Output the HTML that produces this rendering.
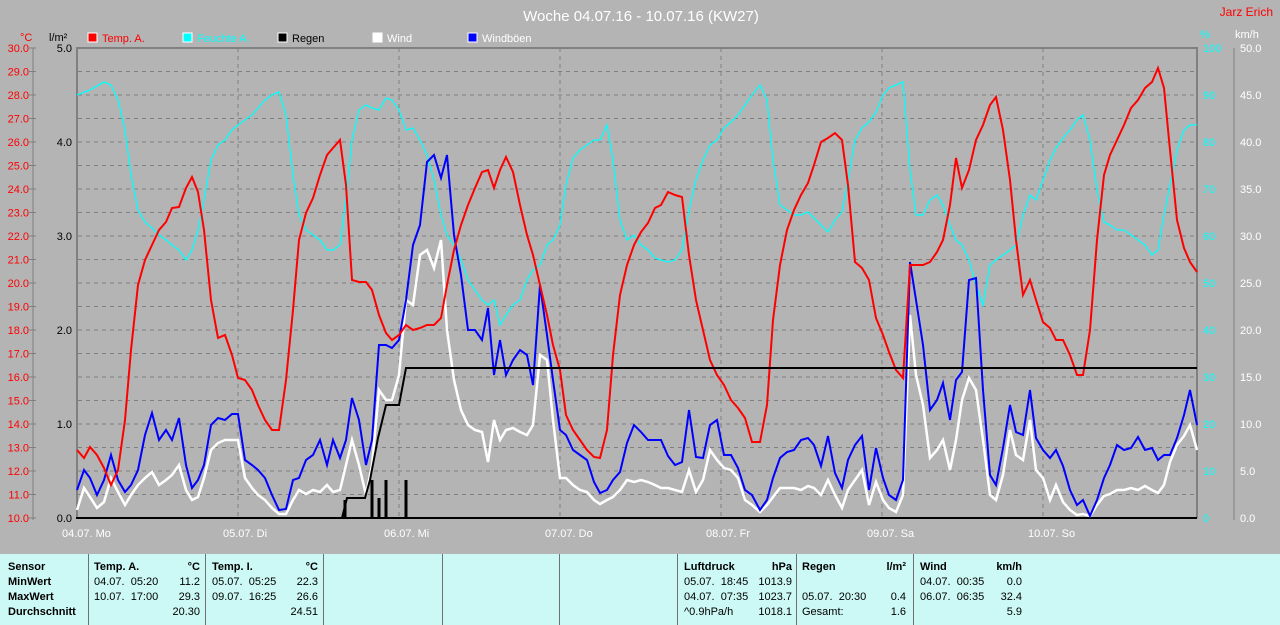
<!DOCTYPE html>
<html><head><meta charset="utf-8"><style>
body{margin:0;width:1280px;height:625px;background:#b4b4b4;overflow:hidden;font-family:"Liberation Sans",sans-serif}
svg{position:absolute;left:0;top:0}
.tbl{position:absolute;left:0;top:554px;width:1280px;height:71px;background:#ccf8f5;font-size:11px;color:#000}
.c{position:absolute;top:0;height:71px;border-left:1px solid #707070}
.t{position:absolute;white-space:pre;font-size:11px;line-height:15px}
.b{font-weight:bold}
</style></head><body>
<svg width="1280" height="625" font-family="Liberation Sans, sans-serif">
<text x="641" y="21" fill="#fff" font-size="15" text-anchor="middle">Woche 04.07.16 - 10.07.16 (KW27)</text>
<text x="1273" y="16" fill="#f00" font-size="12" text-anchor="end">Jarz Erich</text>
<text x="20" y="41" fill="#f00" font-size="11">°C</text>
<text x="49" y="41" fill="#000" font-size="11">l/m²</text>
<text x="1200" y="38" fill="#0ff" font-size="11">%</text>
<text x="1235" y="38" fill="#fff" font-size="11">km/h</text>
<g font-size="11">
<rect x="88" y="33" width="9" height="9" fill="#f00" stroke="#fff"/><text x="102" y="42" fill="#f00">Temp. A.</text>
<rect x="183" y="33" width="9" height="9" fill="#0ff" stroke="#fff"/><text x="197" y="42" fill="#0ff">Feuchte A.</text>
<rect x="278" y="33" width="9" height="9" fill="#000" stroke="#fff"/><text x="292" y="42" fill="#000">Regen</text>
<rect x="373" y="33" width="9" height="9" fill="#fff" stroke="#fff"/><text x="387" y="42" fill="#fff">Wind</text>
<rect x="468" y="33" width="9" height="9" fill="#00f" stroke="#fff"/><text x="482" y="42" fill="#fff">Windböen</text>
</g>
<g stroke="#808080" stroke-dasharray="4,4" stroke-width="1">
<line x1="78" x2="1196" y1="71.5" y2="71.5"/><line x1="78" x2="1196" y1="95" y2="95"/><line x1="78" x2="1196" y1="118.5" y2="118.5"/><line x1="78" x2="1196" y1="142" y2="142"/><line x1="78" x2="1196" y1="165.5" y2="165.5"/><line x1="78" x2="1196" y1="189" y2="189"/><line x1="78" x2="1196" y1="212.5" y2="212.5"/><line x1="78" x2="1196" y1="236" y2="236"/><line x1="78" x2="1196" y1="259.5" y2="259.5"/><line x1="78" x2="1196" y1="283" y2="283"/><line x1="78" x2="1196" y1="306.5" y2="306.5"/><line x1="78" x2="1196" y1="330" y2="330"/><line x1="78" x2="1196" y1="353.5" y2="353.5"/><line x1="78" x2="1196" y1="377" y2="377"/><line x1="78" x2="1196" y1="400.5" y2="400.5"/><line x1="78" x2="1196" y1="424" y2="424"/><line x1="78" x2="1196" y1="447.5" y2="447.5"/><line x1="78" x2="1196" y1="471" y2="471"/><line x1="78" x2="1196" y1="494.5" y2="494.5"/>
<line x1="238" x2="238" y1="48" y2="518"/><line x1="399" x2="399" y1="48" y2="518"/><line x1="560" x2="560" y1="48" y2="518"/><line x1="721" x2="721" y1="48" y2="518"/><line x1="882" x2="882" y1="48" y2="518"/><line x1="1043" x2="1043" y1="48" y2="518"/>
</g>
<path d="M77 518V48H1197V518" fill="none" stroke="#808080" stroke-width="2"/>
<line x1="76" x2="1197" y1="518" y2="518" stroke="#000" stroke-width="2"/>
<line x1="33" x2="33" y1="48" y2="520" stroke="#808080"/>
<line x1="1234" x2="1234" y1="48" y2="520" stroke="#808080"/>
<g font-size="11" fill="#f00" text-anchor="end" id="tl"></g>
<g font-size="11" fill="#000" text-anchor="end">
<text x="72" y="522">0.0</text><text x="72" y="428">1.0</text><text x="72" y="334">2.0</text><text x="72" y="240">3.0</text><text x="72" y="146">4.0</text><text x="72" y="52">5.0</text></g>
<g font-size="11" fill="#0ff">
<text x="1203" y="52">100</text><text x="1203" y="146">80</text><text x="1203" y="240">60</text><text x="1203" y="334">40</text><text x="1203" y="428">20</text><text x="1203" y="522">0</text><text x="1203" y="99">90</text><text x="1203" y="193">70</text><text x="1203" y="287">50</text><text x="1203" y="381">30</text><text x="1203" y="475">10</text></g>
<g font-size="11" fill="#fff" id="kl"></g>
<g font-size="11" fill="#fff">
<text x="62" y="537">04.07.  Mo</text><text x="223" y="537">05.07.  Di</text><text x="384" y="537">06.07.  Mi</text><text x="545" y="537">07.07.  Do</text><text x="706" y="537">08.07.  Fr</text><text x="867" y="537">09.07.  Sa</text><text x="1028" y="537">10.07.  So</text></g>
<polyline fill="none" stroke="#0ff" stroke-width="1.3" points="77,95 90,90 104,82 111,85 118,100 125,130 131,175 138,210 145,222 152,228 159,235 166,240 172,245 179,250 186,260 192,250 198,230 204,200 211,160 218,145 225,140 232,130 238,125 245,120 252,115 258,108 265,100 272,95 279,92 286,115 293,175 299,215 306,230 313,235 320,240 327,250 333,250 340,245 346,200 352,140 359,110 366,105 372,108 379,110 386,98 392,100 399,110 406,130 413,128 420,140 427,155 434,180 441,215 447,235 454,245 461,260 468,280 475,290 482,300 488,305 494,300 500,325 506,315 513,305 520,300 527,280 533,270 540,265 547,245 553,240 560,225 566,185 573,158 580,150 587,145 594,140 600,140 607,125 613,160 620,220 627,240 634,235 641,245 648,250 655,258 661,260 668,262 675,260 682,250 689,210 696,180 703,160 710,145 717,140 724,128 731,122 738,115 745,105 752,95 760,85 767,100 773,160 780,205 787,210 794,215 801,215 808,212 814,218 821,225 828,232 835,220 842,212 848,180 855,140 862,128 869,122 876,112 883,95 889,88 896,85 903,82 910,170 916,215 923,215 930,200 937,195 943,205 950,225 956,240 962,245 969,260 976,285 983,305 990,265 996,260 1003,255 1010,250 1016,245 1023,215 1030,195 1036,200 1043,180 1050,160 1056,148 1063,138 1070,130 1077,120 1083,115 1090,140 1097,190 1104,222 1110,225 1117,230 1124,230 1131,235 1138,240 1145,245 1152,255 1158,250 1164,215 1170,185 1177,150 1184,130 1190,125 1197,125"/>
<polyline fill="none" stroke="#fff" stroke-width="2.5" points="77,510 84,488 90,497 97,508 104,502 111,478 118,492 125,505 131,495 138,485 145,478 152,472 159,485 166,480 172,475 179,465 186,490 192,500 198,497 204,478 211,450 218,443 225,440 232,440 238,440 245,478 252,488 258,495 265,500 272,508 279,514 286,514 293,500 299,490 306,494 313,490 320,492 327,485 333,492 340,490 346,465 352,440 359,465 366,495 372,465 379,390 386,400 392,400 399,375 406,300 413,305 420,255 427,250 434,268 441,240 447,330 454,380 461,410 468,425 475,430 482,432 488,462 494,420 500,440 506,430 513,428 520,432 527,435 533,425 540,355 547,360 553,420 560,478 566,478 573,485 580,490 587,492 594,500 600,504 607,500 613,497 620,490 627,480 634,482 641,480 648,482 655,485 661,488 668,488 675,490 682,492 689,470 696,492 703,480 710,450 717,460 724,468 731,470 738,478 745,500 752,505 760,512 767,505 773,497 780,488 787,488 794,488 801,490 808,486 814,488 821,495 828,480 835,495 842,508 848,490 855,480 862,470 869,505 876,482 883,500 889,508 896,512 903,495 910,315 916,375 923,405 930,458 937,450 943,440 950,470 956,440 962,400 969,378 976,390 983,440 990,495 996,500 1003,475 1010,430 1016,455 1023,460 1030,420 1036,470 1043,478 1050,500 1056,485 1063,502 1070,510 1077,515 1083,514 1090,516 1097,505 1104,496 1110,494 1117,490 1124,490 1131,488 1138,490 1145,486 1152,490 1158,493 1164,485 1170,462 1177,445 1184,436 1190,425 1197,450"/>
<polyline fill="none" stroke="#00f" stroke-width="2" points="77,490 84,470 90,478 97,495 104,480 111,455 118,480 125,492 131,485 138,470 145,435 152,413 159,440 166,430 172,440 179,418 186,465 192,488 198,480 204,465 211,425 218,418 225,420 232,414 238,414 245,460 252,465 258,470 265,478 272,495 279,510 286,509 293,480 299,478 306,460 313,455 320,440 327,465 333,440 340,458 346,440 352,398 359,420 366,465 372,440 379,345 386,345 392,348 399,340 406,300 413,245 420,225 427,162 434,155 441,178 447,155 454,235 461,275 468,330 475,330 482,340 488,308 494,375 500,340 506,375 513,360 520,350 527,355 533,385 540,285 547,335 553,380 560,430 566,435 573,450 580,455 587,460 594,482 600,493 607,490 613,480 620,472 627,443 634,425 641,432 648,440 655,440 661,440 668,456 675,465 682,462 689,410 696,457 703,458 710,425 717,420 724,455 731,455 738,468 745,490 752,495 760,510 767,500 773,478 780,458 787,452 794,450 801,440 808,438 814,445 821,466 828,436 835,473 842,488 848,460 855,445 862,436 869,490 876,448 883,478 889,495 896,500 903,480 910,262 916,300 923,345 930,410 937,400 943,383 950,420 956,380 962,372 969,280 976,278 983,390 990,475 996,485 1003,448 1010,405 1016,432 1023,435 1030,390 1036,438 1043,450 1050,458 1056,450 1063,466 1070,490 1077,505 1083,500 1090,516 1097,500 1104,478 1110,465 1117,445 1124,450 1131,448 1138,437 1145,450 1152,448 1158,460 1164,455 1170,455 1177,438 1184,415 1190,390 1197,425"/>
<polyline fill="none" stroke="#f00" stroke-width="2" points="77,450 84,458 90,447 97,455 104,468 111,485 118,470 125,420 131,350 138,285 145,260 152,245 159,230 166,222 172,208 179,207 186,188 192,177 198,192 204,230 211,300 218,338 225,335 232,355 238,378 245,380 252,390 258,405 265,420 272,430 279,430 286,380 293,310 299,240 306,213 313,198 320,175 327,155 333,148 340,140 346,185 352,280 359,282 366,282 372,290 379,315 386,333 392,340 399,335 406,325 413,330 420,328 427,325 434,325 441,318 447,285 454,250 461,225 468,205 475,188 482,172 488,170 494,188 500,170 506,157 513,172 520,205 527,235 533,255 540,285 547,315 553,345 560,370 566,415 573,430 580,440 587,450 594,457 600,458 607,430 613,355 620,295 627,265 634,245 641,232 648,223 655,208 661,205 668,192 675,195 682,197 689,255 696,300 703,330 710,360 717,375 724,385 731,400 738,408 745,418 752,442 760,442 767,405 773,320 780,265 787,230 794,210 801,195 808,183 814,165 821,142 828,138 835,133 842,140 848,185 855,262 862,268 869,280 876,318 883,335 889,352 896,370 903,378 910,265 916,265 923,265 930,262 937,252 943,240 950,205 956,158 962,188 969,170 976,140 983,125 990,105 996,97 1003,130 1010,180 1016,240 1023,295 1030,280 1036,300 1043,322 1050,328 1056,340 1063,340 1070,355 1077,375 1083,375 1090,330 1097,240 1104,175 1110,155 1117,140 1124,125 1131,108 1138,100 1145,88 1152,82 1158,68 1164,88 1170,150 1177,220 1184,248 1190,262 1197,272"/>
<g stroke="#000" stroke-width="3">
<line x1="345" x2="345" y1="500" y2="518"/><line x1="372" x2="372" y1="480" y2="518"/><line x1="379" x2="379" y1="498" y2="518"/><line x1="386" x2="386" y1="480" y2="518"/><line x1="406" x2="406" y1="480" y2="518"/></g>
<polyline fill="none" stroke="#000" stroke-width="2" points="77,518 342,518 347,498 365,498 370,480 378,438 386,405 399,405 406,368 1197,368"/>
</svg>
<div class="tbl">
<div class="c" style="left:88px"></div><div class="c" style="left:205px"></div><div class="c" style="left:323px"></div><div class="c" style="left:442px"></div><div class="c" style="left:559px"></div><div class="c" style="left:677px"></div><div class="c" style="left:796px"></div><div class="c" style="left:913px"></div>
<div class="t b" style="left:8px;top:6px">Sensor<br>MinWert<br>MaxWert<br>Durchschnitt</div>
<div class="t" style="left:94px;top:6px"><b>Temp. A.</b><br>04.07.  05:20<br>10.07.  17:00</div>
<div class="t" style="left:160px;top:6px;width:40px;text-align:right"><b>°C</b><br>11.2<br>29.3<br>20.30</div>
<div class="t" style="left:212px;top:6px"><b>Temp. I.</b><br>05.07.  05:25<br>09.07.  16:25</div>
<div class="t" style="left:278px;top:6px;width:40px;text-align:right"><b>°C</b><br>22.3<br>26.6<br>24.51</div>
<div class="t" style="left:684px;top:6px"><b>Luftdruck</b><br>05.07.  18:45<br>04.07.  07:35<br>^0.9hPa/h</div>
<div class="t" style="left:740px;top:6px;width:52px;text-align:right"><b>hPa</b><br>1013.9<br>1023.7<br>1018.1</div>
<div class="t" style="left:802px;top:6px"><b>Regen</b><br><br>05.07.  20:30<br>Gesamt:</div>
<div class="t" style="left:866px;top:6px;width:40px;text-align:right"><b>l/m²</b><br><br>0.4<br>1.6</div>
<div class="t" style="left:920px;top:6px"><b>Wind</b><br>04.07.  00:35<br>06.07.  06:35</div>
<div class="t" style="left:982px;top:6px;width:40px;text-align:right"><b>km/h</b><br>0.0<br>32.4<br>5.9</div>
</div>
<script>
var tl=document.getElementById('tl'),kl=document.getElementById('kl'),s='';
for(var i=0;i<=20;i++){var y=518-i*23.5;s+='<text x="29" y="'+(y+4)+'">'+(10+i).toFixed(1)+'</text><line x1="29" x2="36" y1="'+y+'" y2="'+y+'" stroke="#808080"/>';}
tl.innerHTML=s;s='';
for(var i=0;i<=10;i++){var y=518-i*47;s+='<text x="1240" y="'+(y+4)+'">'+(i*5).toFixed(1)+'</text>';}
kl.innerHTML=s;
</script>
</body></html>
